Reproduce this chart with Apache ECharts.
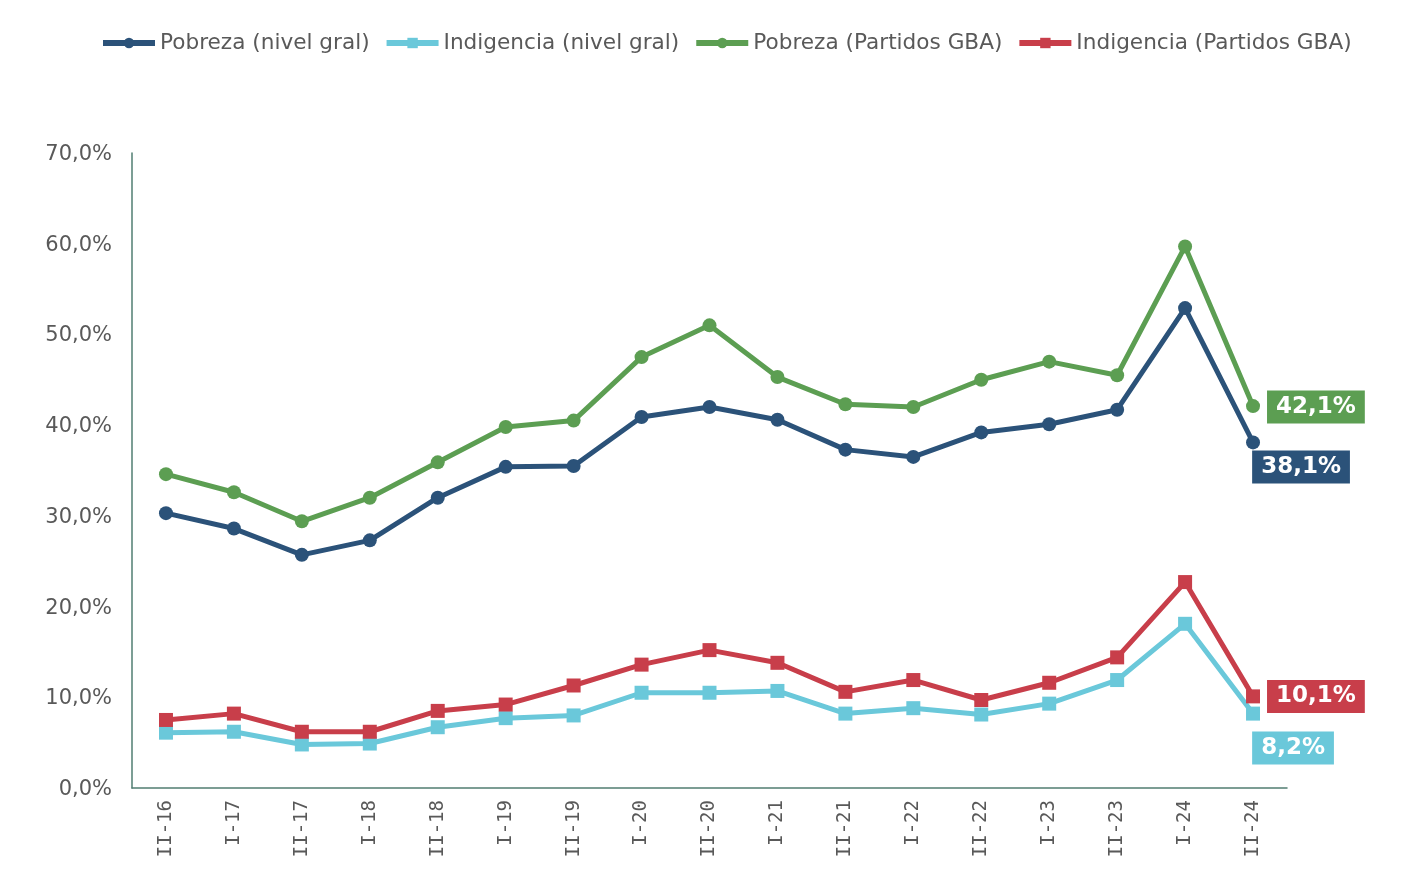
<!DOCTYPE html>
<html>
<head>
<meta charset="utf-8">
<script src="https://cdn.jsdelivr.net/npm/echarts@6/dist/echarts.min.js"></script>
<style>
  html, body { margin: 0; padding: 0; background: #fff; }
  #chart { width: 1419px; height: 885px; }
</style>
</head>
<body>
<div id="chart"></div>
<script>
  // 분기 라벨
  const periods = ['II-16', 'I-17', 'II-17', 'I-18', 'II-18', 'I-19', 'II-19', 'I-20', 'II-20',
                   'I-21', 'II-21', 'I-22', 'II-22', 'I-23', 'II-23', 'I-24', 'II-24'];

  const pobrezaGral = [30.3, 28.6, 25.7, 27.3, 32.0, 35.4, 35.5, 40.9, 42.0, 40.6, 37.3, 36.5, 39.2, 40.1, 41.7, 52.9, 38.1];
  const indigenciaGral = [6.1, 6.2, 4.8, 4.9, 6.7, 7.7, 8.0, 10.5, 10.5, 10.7, 8.2, 8.8, 8.1, 9.3, 11.9, 18.1, 8.2];
  const pobrezaGBA = [34.6, 32.6, 29.4, 32.0, 35.9, 39.8, 40.5, 47.5, 51.0, 45.3, 42.3, 42.0, 45.0, 47.0, 45.5, 59.7, 42.1];
  const indigenciaGBA = [7.5, 8.2, 6.2, 6.2, 8.5, 9.2, 11.3, 13.6, 15.2, 13.8, 10.6, 11.9, 9.7, 11.6, 14.4, 22.7, 10.1];

  const yTicks = [0, 10, 20, 30, 40, 50, 60, 70];

  const C_NAVY = '#2B5279';
  const C_CYAN = '#6AC8DA';
  const C_GREEN = '#5C9E52';
  const C_RED = '#C83E4A';

  const fmt = v => v.toFixed(1).replace('.', ',') + '%';

  // 마지막 점에만 라벨 박스
  function withEndLabel(values, color, pos) {
    return values.map((v, i) => {
      if (i !== values.length - 1) return v;
      return {
        value: v,
        label: Object.assign({
          show: true,
          formatter: p => fmt(p.value),
          backgroundColor: color,
          color: '#fff',
          fontFamily: 'DejaVu Sans',
          fontWeight: 'bold',
          fontSize: 23,
          lineHeight: 23,
          padding: [5, 9, 5, 9]
        }, pos)
      };
    });
  }

  function lineSeries(name, values, color, symbol, size, pos) {
    return {
      name: name,
      type: 'line',
      data: withEndLabel(values, color, pos),
      symbol: symbol,
      symbolSize: size,
      lineStyle: { width: 5, color: color },
      itemStyle: { color: color },
      emphasis: { disabled: true }
    };
  }

  const chart = echarts.init(document.getElementById('chart'));

  chart.setOption({
    animation: false,
    legend: {
      top: 27,
      left: 95,
      itemWidth: 52,
      itemHeight: 13,
      itemGap: 14,
      lineStyle: { width: 6 },
      textStyle: { fontFamily: 'DejaVu Sans', fontSize: 21.6, color: '#595959' }
    },
    grid: { left: 132, right: 132, top: 153, bottom: 97 },
    xAxis: {
      type: 'category',
      data: periods,
      boundaryGap: true,
      axisLine: { lineStyle: { color: '#517E72', width: 1.5 } },
      axisTick: { show: false },
      axisLabel: {
        rotate: 90,
        margin: 12,
        fontFamily: 'DejaVu Sans Mono',
        fontSize: 19,
        color: '#595959'
      }
    },
    yAxis: {
      type: 'value',
      min: yTicks[0],
      max: yTicks[yTicks.length - 1],
      interval: 10,
      splitLine: { show: false },
      axisLine: { show: true, lineStyle: { color: '#517E72', width: 1.5 } },
      axisTick: { show: false },
      axisLabel: {
        margin: 20,
        fontFamily: 'DejaVu Sans',
        fontSize: 21,
        color: '#595959',
        verticalAlign: 'top',
        lineHeight: 21,
        padding: [-9, 0, 0, 0],
        formatter: v => fmt(v)
      }
    },
    series: [
      lineSeries('Pobreza (nivel gral)', pobrezaGral, C_NAVY, 'circle', 14,
        { position: 'bottom', distance: 1, offset: [48, 0] }),
      lineSeries('Indigencia (nivel gral)', indigenciaGral, C_CYAN, 'rect', 14,
        { position: 'bottom', distance: 11, offset: [40, 0] }),
      lineSeries('Pobreza (Partidos GBA)', pobrezaGBA, C_GREEN, 'circle', 14,
        { position: 'right', distance: 7, offset: [0, 1] }),
      lineSeries('Indigencia (Partidos GBA)', indigenciaGBA, C_RED, 'rect', 14,
        { position: 'right', distance: 7, offset: [0, 0] })
    ]
  });
</script>
</body>
</html>
